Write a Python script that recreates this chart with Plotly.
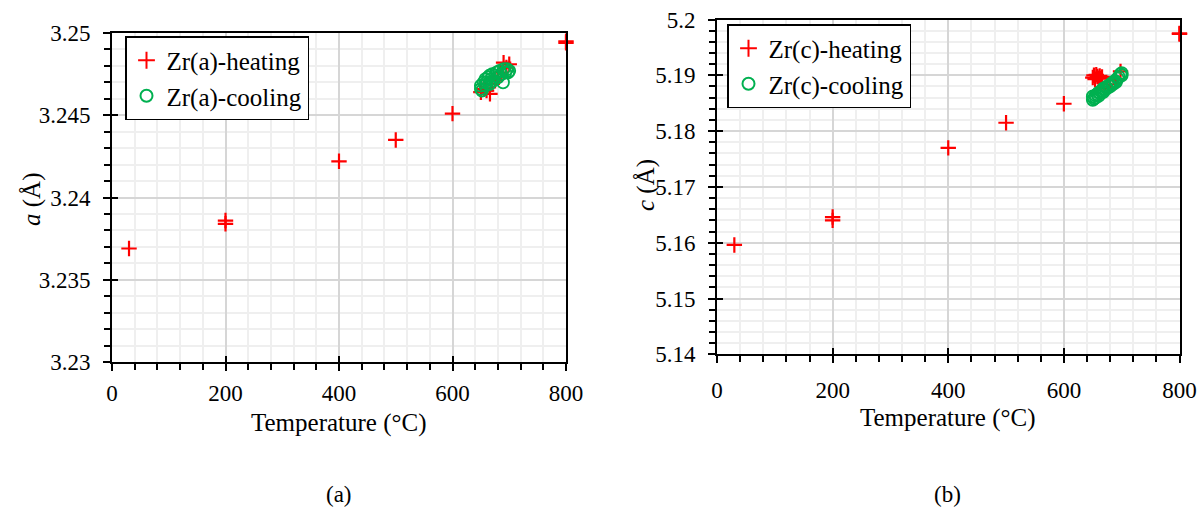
import plotly.graph_objects as go

# ---------------- data ----------------
# (a) lattice parameter a
temp_heat_a = [30, 200, 200, 400, 500, 600, 650, 655, 660, 666, 670, 675, 680, 685, 690, 695, 700, 800, 800]
a_heat = [3.2369, 3.2386, 3.2384, 3.2422, 3.2435, 3.2451, 3.2464, 3.2466, 3.2465, 3.2463,
          3.2469, 3.2471, 3.2473, 3.2476, 3.2482, 3.2479, 3.2481, 3.2495, 3.2494]
temp_cool_a = [650, 650, 652, 655, 658, 658, 660, 663, 665, 665, 668, 670, 672, 675, 678,
               680, 683, 686, 689, 690, 693, 696, 698, 700]
a_cool = [3.2466, 3.2468, 3.2465, 3.2470, 3.2468, 3.2472, 3.2470, 3.2473, 3.2469, 3.2474,
          3.2472, 3.2475, 3.2471, 3.2474, 3.2476, 3.2473, 3.2477, 3.2475, 3.2470, 3.2478,
          3.2476, 3.2478, 3.2476, 3.2477]

# (b) lattice parameter c
temp_heat_c = [30, 200, 200, 400, 500, 600, 650, 652, 654, 656, 658, 660, 662, 664, 666,
               670, 680, 690, 698, 800, 800]
c_heat = [5.1596, 5.1646, 5.1640, 5.1770, 5.1815, 5.1849, 5.1896, 5.1900, 5.1893, 5.1901,
          5.1898, 5.1895, 5.1899, 5.1894, 5.1897, 5.1876, 5.1884, 5.1893, 5.1907, 5.1975, 5.1974]
temp_cool_c = [650, 650, 652, 655, 655, 658, 660, 660, 663, 665, 668, 668, 670, 673, 675,
               678, 680, 683, 685, 688, 690, 693, 695, 698, 700, 700]
c_cool = [5.1856, 5.1862, 5.1858, 5.1864, 5.1860, 5.1866, 5.1863, 5.1869, 5.1868, 5.1872,
          5.1870, 5.1876, 5.1874, 5.1879, 5.1877, 5.1882, 5.1880, 5.1886, 5.1884, 5.1890,
          5.1888, 5.1894, 5.1897, 5.1902, 5.1900, 5.1904]

x_ticks = [0, 200, 400, 600, 800]
x_ticktext = ["0", "200", "400", "600", "800"]
a_ticks = [3.23, 3.235, 3.24, 3.245, 3.25]
a_ticktext = ["3.23", "3.235", "3.24", "3.245", "3.25"]
c_ticks = [5.14, 5.15, 5.16, 5.17, 5.18, 5.19, 5.2]
c_ticktext = ["5.14", "5.15", "5.16", "5.17", "5.18", "5.19", "5.2"]

FONT = "Times New Roman, Liberation Serif, serif"
RED = "#ff0000"
GREEN = "#00b050"
W, H = 1202, 514

fig = go.Figure()

heat_marker = dict(symbol="cross-thin-open", size=11, color=RED, line=dict(color=RED, width=2.2))
cool_marker = dict(symbol="circle-open", size=12, color=GREEN, line=dict(color=GREEN, width=1.8))

fig.add_trace(go.Scatter(x=temp_heat_a, y=a_heat, mode="markers", name="Zr(a)-heating",
                         marker=heat_marker, xaxis="x", yaxis="y", legend="legend", cliponaxis=False))
fig.add_trace(go.Scatter(x=temp_cool_a, y=a_cool, mode="markers", name="Zr(a)-cooling",
                         marker=cool_marker, xaxis="x", yaxis="y", legend="legend", cliponaxis=False))
fig.add_trace(go.Scatter(x=temp_heat_c, y=c_heat, mode="markers", name="Zr(c)-heating",
                         marker=heat_marker, xaxis="x2", yaxis="y2", legend="legend2", cliponaxis=False))
fig.add_trace(go.Scatter(x=temp_cool_c, y=c_cool, mode="markers", name="Zr(c)-cooling",
                         marker=cool_marker, xaxis="x2", yaxis="y2", legend="legend2", cliponaxis=False))
# empty traces for overlay axes (inner half of crossing major ticks)
fig.add_trace(go.Scatter(x=[], y=[], xaxis="x3", yaxis="y3", showlegend=False, legend="legend3"))
fig.add_trace(go.Scatter(x=[], y=[], xaxis="x4", yaxis="y4", showlegend=False, legend="legend3"))

tickfont = dict(family=FONT, size=23, color="black")

def base_axis(**kw):
    d = dict(showline=True, linecolor="black", linewidth=2, mirror=True, automargin=False,
             ticks="outside", ticklen=7, tickwidth=1.5, tickcolor="black",
             showgrid=True, gridcolor="#d6d6d6", gridwidth=1.5, zeroline=False,
             tickfont=tickfont,
             minor=dict(ticks="outside", ticklen=6, tickwidth=1.5, tickcolor="black",
                        showgrid=True, gridcolor="#efefef", gridwidth=1.5))
    d.update(kw)
    return d

def inner_axis(**kw):
    d = dict(ticks="inside", ticklen=6, tickwidth=1.5, tickcolor="black", showticklabels=False,
             showgrid=False, zeroline=False, showline=False, automargin=False)
    d.update(kw)
    return d

L_X = [112/W, 566/W]
L_Y = [(H-362)/H, (H-33)/H]
R_X = [717/W, 1179.5/W]
R_Y = [(H-354.3)/H, (H-19.5)/H]

def ann(text, px, py, size, angle=0):
    return dict(text=text, x=px/W, y=1-py/H, xref="paper", yref="paper", showarrow=False,
                textangle=angle, font=dict(family=FONT, size=size, color="black"),
                xanchor="center", yanchor="middle")

legend_common = dict(xanchor="left", yanchor="top", bgcolor="white",
                     bordercolor="black", borderwidth=1.5,
                     font=dict(family=FONT, size=25, color="black"),
                     itemwidth=30, tracegroupgap=0, itemsizing="constant")

fig.update_layout(
    width=W, height=H, margin=dict(l=0, r=0, t=0, b=0, autoexpand=False),
    paper_bgcolor="white", plot_bgcolor="white",
    font=dict(family=FONT, color="black"),
    xaxis=base_axis(domain=L_X, anchor="y", range=[0, 800], tickvals=x_ticks, ticktext=x_ticktext,
                    minor_dtick=40, ticklabelstandoff=2),
    yaxis=base_axis(domain=L_Y, anchor="x", range=[3.23, 3.25], tickvals=a_ticks, ticktext=a_ticktext,
                    minor_dtick=0.001, ticklabelstandoff=8),
    xaxis2=base_axis(domain=R_X, anchor="y2", range=[0, 800], tickvals=x_ticks, ticktext=x_ticktext,
                     minor_dtick=40, ticklabelstandoff=7),
    yaxis2=base_axis(domain=R_Y, anchor="x2", range=[5.14, 5.2], tickvals=c_ticks, ticktext=c_ticktext,
                     minor_dtick=0.002, ticklabelstandoff=8),
    xaxis3=inner_axis(overlaying="x", anchor="y", side="bottom", range=[0, 800], tickvals=x_ticks),
    yaxis3=inner_axis(overlaying="y", anchor="x", side="left", range=[3.23, 3.25], tickvals=a_ticks),
    xaxis4=inner_axis(overlaying="x2", anchor="y2", side="bottom", range=[0, 800], tickvals=x_ticks),
    yaxis4=inner_axis(overlaying="y2", anchor="x2", side="left", range=[5.14, 5.2], tickvals=c_ticks),
    legend=dict(x=125/W, y=1-36/H, **legend_common),
    legend2=dict(x=727/W, y=1-24/H, **legend_common),
    legend3=dict(visible=False),
    annotations=[
        ann("Temperature (°C)", 339, 423, 25),
        ann("Temperature (°C)", 948, 418, 25),
        ann("<i>a</i> (Å)", 32, 200, 25, -90),
        ann("<i>c</i> (Å)", 646, 185, 25, -90),
        ann("(a)", 339, 494, 23),
        ann("(b)", 947, 494, 23),
    ],
    showlegend=True,
)

fig.write_html("out.html")
